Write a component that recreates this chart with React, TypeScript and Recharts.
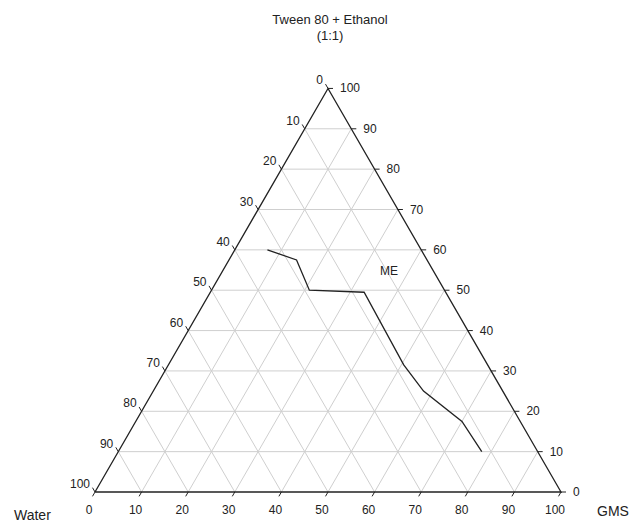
import { ScatterChart, Scatter, XAxis, YAxis, ReferenceLine } from "recharts";

// ternary values: [GMS %, Tween 80 + Ethanol %] (water is the rest)
const boundary: [number, number][] = [
  [7, 60],
  [14.5, 57.5],
  [21, 50],
  [33, 49.5],
  [50.5, 31.5],
  [58, 25],
  [70, 17.5],
  [78, 10],
];
const steps = [10, 20, 30, 40, 50, 60, 70, 80, 90];
const tickValues = [0, 10, 20, 30, 40, 50, 60, 70, 80, 90, 100];
const regionLabel = { text: "ME", gms: 35.7, tween: 54.8 };

const S3 = Math.sqrt(3) / 2;
const tern = (gms: number, tween: number) => ({
  x: gms / 100 + tween / 200,
  y: (tween / 100) * S3,
});

// chart frame: triangle base 466px, left corner at (95, 492)
const W = 633;
const H = 524;
const SIDE = 466;
const xDomain = [-95 / SIDE, (W - 95) / SIDE];
const yDomain = [-(H - 492) / SIDE, 492 / SIDE];
const TICK = 5 / SIDE;

const gridSegs: { a: { x: number; y: number }; b: { x: number; y: number } }[] = [];
steps.forEach((v) => {
  gridSegs.push({ a: tern(0, v), b: tern(100 - v, v) });
  gridSegs.push({ a: tern(v, 0), b: tern(v, 100 - v) });
  gridSegs.push({ a: tern(100 - v, 0), b: tern(0, 100 - v) });
});

const tickSegs: { a: { x: number; y: number }; b: { x: number; y: number } }[] = [];
tickValues.forEach((v) => {
  const bp = tern(v, 0);
  tickSegs.push({ a: bp, b: { x: bp.x - 0.5 * TICK, y: bp.y - S3 * TICK } });
  const rp = tern(100 - v, v);
  tickSegs.push({ a: rp, b: { x: rp.x + TICK, y: rp.y } });
  const lp = tern(0, 100 - v);
  tickSegs.push({ a: lp, b: { x: lp.x - 0.5 * TICK, y: lp.y + S3 * TICK } });
});

const labels = [
  ...tickValues.map((v) => ({ ...tern(v, 0), text: String(v), dx: -6, dy: 18, anchor: "middle" })),
  ...tickValues.map((v) => ({ ...tern(100 - v, v), text: String(v), dx: 12, dy: 0, anchor: "start" })),
  ...tickValues.map((v) => ({ ...tern(0, 100 - v), text: String(v), dx: -5, dy: -8, anchor: "end" })),
  { ...tern(regionLabel.gms, regionLabel.tween), text: regionLabel.text, dx: 0, dy: 0, anchor: "middle" },
];

const curve = boundary.map(([g, t]) => tern(g, t));
const corners = [tern(0, 0), tern(100, 0), tern(0, 100), tern(0, 0)];

const LabelShape = (props: any) => {
  const { cx, cy, payload } = props;
  return (
    <text
      x={cx + payload.dx}
      y={cy + payload.dy}
      textAnchor={payload.anchor}
      dominantBaseline="central"
      fontSize={12}
      fill="#222"
      fontFamily="Liberation Sans, Arial, sans-serif"
    >
      {payload.text}
    </text>
  );
};

const textStyle: React.CSSProperties = {
  position: "absolute",
  fontFamily: "Liberation Sans, Arial, sans-serif",
  fontSize: 13,
  color: "#222",
  lineHeight: "16px",
};

export default function App() {
  return (
    <div style={{ position: "absolute", left: 0, top: 0, width: W, height: H, background: "#fff" }}>
      <ScatterChart width={W} height={H} margin={{ top: 0, right: 0, bottom: 0, left: 0 }}>
        <XAxis type="number" dataKey="x" domain={xDomain} hide />
        <YAxis type="number" dataKey="y" domain={yDomain} hide />
        {gridSegs.map((s, i) => (
          <ReferenceLine key={"g" + i} segment={[s.a, s.b]} stroke="#cfcfcf" strokeWidth={1} ifOverflow="visible" />
        ))}
        {tickSegs.map((s, i) => (
          <ReferenceLine key={"t" + i} segment={[s.a, s.b]} stroke="#222" strokeWidth={1} ifOverflow="visible" />
        ))}
        <Scatter
          data={corners}
          line={{ stroke: "#222", strokeWidth: 1.3 }}
          shape={() => <g />}
          isAnimationActive={false}
        />
        <Scatter
          data={curve}
          line={{ stroke: "#222", strokeWidth: 1.3 }}
          shape={() => <g />}
          isAnimationActive={false}
        />
        <Scatter data={labels} shape={LabelShape} isAnimationActive={false} />
      </ScatterChart>
      <div style={{ ...textStyle, left: 0, width: 660, top: 12, textAlign: "center" }}>
        Tween 80 + Ethanol
        <br />
        (1:1)
      </div>
      <div style={{ ...textStyle, fontSize: 14, left: 14, top: 507 }}>Water</div>
      <div style={{ ...textStyle, fontSize: 14, left: 597, top: 503 }}>GMS</div>
    </div>
  );
}
